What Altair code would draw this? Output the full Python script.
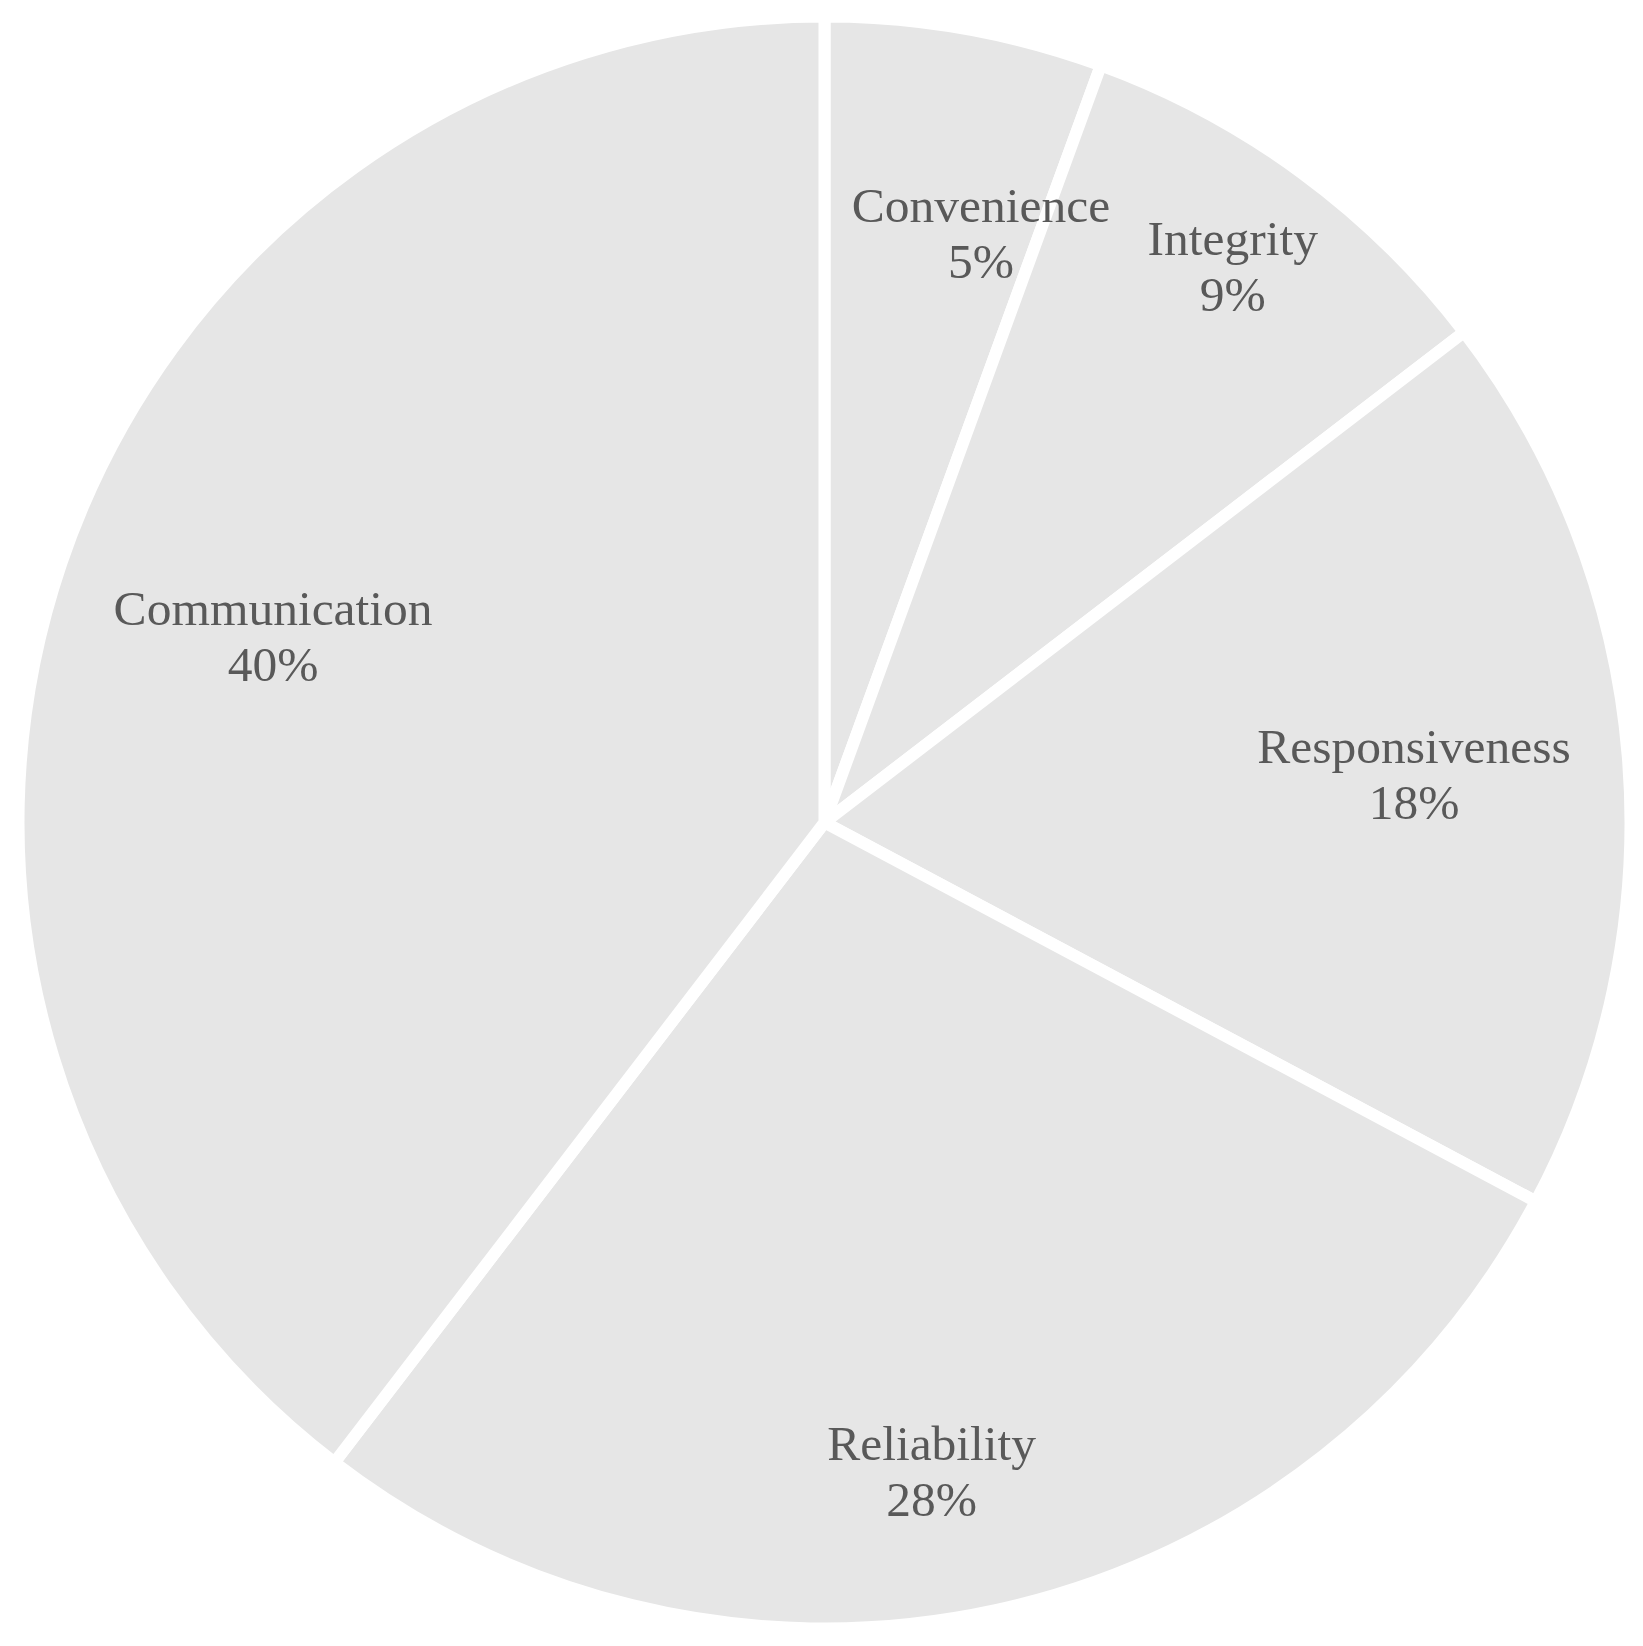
import math
import altair as alt
import pandas as pd

# ---- data ----
categories = ["Convenience", "Integrity", "Responsiveness", "Reliability", "Communication"]
values = [5.57, 9.02, 18.20, 27.61, 39.60]
pct_labels = ["5%", "9%", "18%", "28%", "40%"]

df = pd.DataFrame({
    "cat": categories,
    "value": values,
    "pct": pct_labels,
    "order": list(range(len(categories))),
})
df["label"] = df["cat"] + "\n" + df["pct"]

# ---- layout / style ----
CX, CY = 816.5, 814.5
OUTER_R = 806
LABEL_R = 620
FILL = "#e6e6e6"
TEXT_COLOR = "#595959"
FONT = "Liberation Serif"
LINE_SHIFT = -28

# label nudges (Excel "best fit" placement)
nudges = {
    "Convenience": (48.5, 23.5),
    "Integrity": (41.3, -54.7),
    "Responsiveness": (-28.4, 4.8),
    "Reliability": (-24.5, 44.7),
    "Communication": (35.8, 14.5),
}

theta_scale = alt.Scale(domain=[0, 100], range=[0, 2 * math.pi])

base = (
    alt.Chart(df)
    .transform_stack(stack="value", groupby=[], as_=["v0", "v1"], sort=[alt.SortField("order")])
    .transform_calculate(mid="(datum.v0 + datum.v1) / 2")
)

arcs = base.mark_arc(
    outerRadius=OUTER_R, stroke="white", strokeWidth=12, color=FILL
).encode(
    theta=alt.Theta("v0:Q", scale=theta_scale),
    theta2="v1:Q",
    x=alt.value(CX),
    y=alt.value(CY),
)

texts = []
for c in categories:
    dx, dy = nudges[c]
    t = (
        base.transform_filter(alt.datum.cat == c)
        .mark_text(
            radius=LABEL_R, dx=dx, dy=dy + LINE_SHIFT, font=FONT, fontSize=49.5, lineHeight=56,
            color=TEXT_COLOR, lineBreak="\n", align="center", baseline="middle",
        )
        .encode(
            theta=alt.Theta("mid:Q", scale=theta_scale),
            text="label:N",
            x=alt.value(CX),
            y=alt.value(CY),
        )
    )
    texts.append(t)

chart = (
    alt.layer(arcs, *texts)
    .properties(width=1627, height=1620, autosize=alt.AutoSizeParams(type="none"), padding=0)
    .configure_view(stroke=None)
)

chart.save("out.html", embed_options={"renderer": "svg", "actions": False})
